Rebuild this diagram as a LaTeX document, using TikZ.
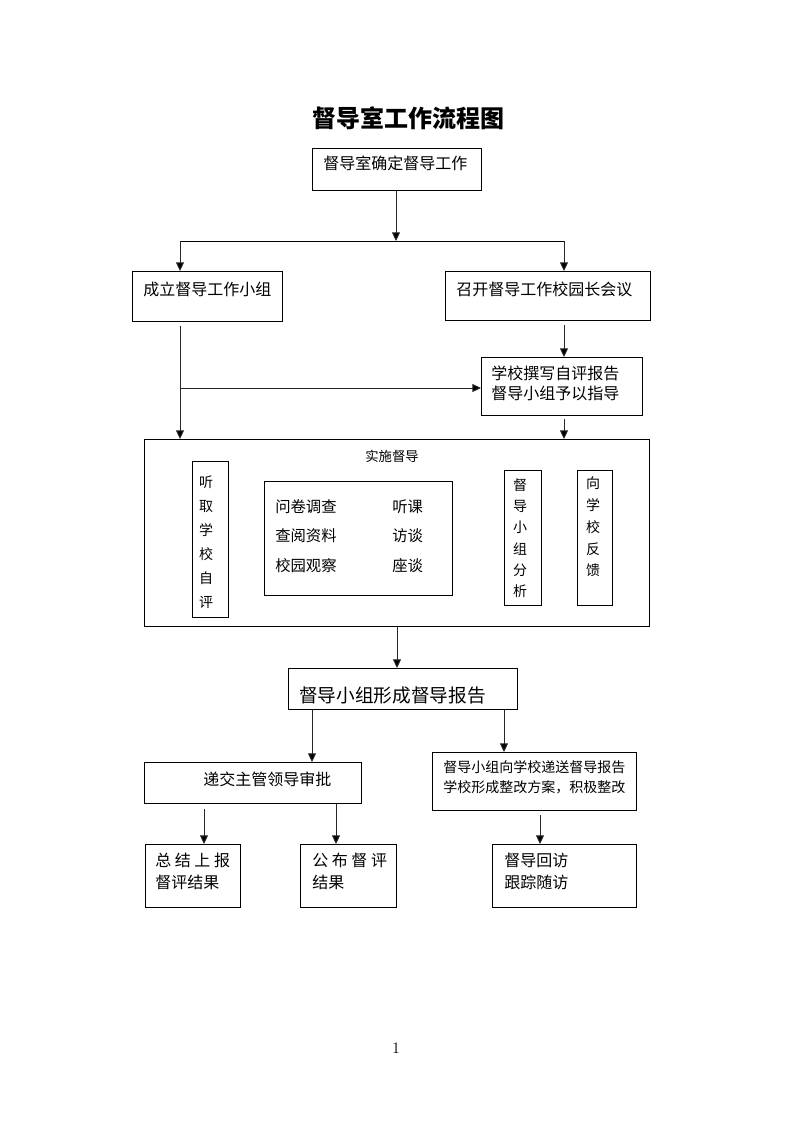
\documentclass[tikz,border=0pt]{standalone}
\usepackage{fontspec}
\newfontfamily\cjk{Noto Sans CJK SC}
\newcommand\cjksize[2]{\cjk\fontsize{#1}{#2}\selectfont}
\usetikzlibrary{arrows.meta}

\begin{document}
\begin{tikzpicture}[x=0.75pt,y=-0.75pt,
        box/.style={draw,line width=0.75pt,inner sep=0pt,anchor=north west},
        wh/.style 2 args={minimum width=#1*0.75pt,minimum height=#2*0.75pt},
        txt/.style={inner sep=0pt,anchor=west,align=left,font=\cjksize{12}{16.5}},
        vtxt/.style={inner sep=0pt,align=center},
        arr/.style={line width=0.7pt,draw=black!85,-{Triangle[length=6.5pt,width=6pt,fill=black]}}]
    \useasboundingbox (0,0) rectangle (793,1122);
    \node[inner sep=0pt,font=\cjksize{18}{22}\bfseries] (title) at (408,118) {督导室工作流程图};
    \node[box,wh={169}{42}] (top) at (312,148) {};
    \node[txt] (topt) at (323,163) {督导室确定督导工作};
    \node[box,wh={150}{50}] (grp) at (132,271) {};
    \node[txt] (grpt) at (143,289) {成立督导工作小组};
    \node[box,wh={205}{49}] (meet) at (445,271) {};
    \node[txt] (meett) at (456,289) {召开督导工作校园长会议};
    \node[box,wh={161}{58}] (self) at (481,357) {};
    \node[txt,font=\cjksize{12}{15}] (selft) at (491,383) {学校撰写自评报告\\督导小组予以指导};
    \node[box,wh={505}{187}] (impl) at (144,439) {};
    \node[inner sep=0pt,font=\cjksize{10}{12}] (implt) at (392,456) {实施督导};
    \node[box,wh={36}{156}] (listen) at (192,461) {};
    \node[vtxt,font=\cjksize{10.5}{18}] (listent) at (206,542) {听\\取\\学\\校\\自\\评};
    \node[box,wh={188}{114}] (methods) at (264,481) {};
    \node[txt,font=\cjksize{11.5}{22}] (methl) at (275,536) {问卷调查\\查阅资料\\校园观察};
    \node[txt,font=\cjksize{11.5}{22}] (methr) at (392,536) {听课\\访谈\\座谈};
    \node[box,wh={37}{135}] (analyse) at (504,470) {};
    \node[vtxt,font=\cjksize{10.5}{16}] (analyset) at (520,538) {督\\导\\小\\组\\分\\析};
    \node[box,wh={35}{135}] (feedback) at (577,470) {};
    \node[vtxt,font=\cjksize{10.5}{16.3}] (feedbackt) at (593,527) {向\\学\\校\\反\\馈};
    \node[box,wh={229}{41}] (report) at (288,668) {};
    \node[txt,font=\cjksize{14}{16}] (reportt) at (299,695) {督导小组形成督导报告};
    \node[box,wh={217}{41}] (submit) at (144,762) {};
    \node[txt] (submitt) at (203,779) {递交主管领导审批};
    \node[box,wh={204}{58}] (send) at (432,752) {};
    \node[txt,font=\cjksize{10.5}{15}] (sendt) at (443,777) {督导小组向学校递送督导报告\\学校形成整改方案，积极整改};
    \node[box,wh={95}{63}] (sum) at (145,844) {};
    \node[txt] (sumt) at (155,871) {总 结 上 报\\督评结果};
    \node[box,wh={96}{63}] (publish) at (300,844) {};
    \node[txt] (publisht) at (312,871) {公 布 督 评\\结果};
    \node[box,wh={144}{63}] (revisit) at (492,844) {};
    \node[txt] (revisitt) at (504,871) {督导回访\\跟踪随访};
    \node[inner sep=0pt,font=\fontsize{12}{14}\selectfont] (pageno) at (396,1048) {1};

    \coordinate (fork) at (396,241);
    \coordinate (forkl) at (180,241);
    \coordinate (forkr) at (564,241);
    \coordinate (tap) at (180,388);
    \coordinate (a1) at (312,0);
    \coordinate (a2) at (504,0);
    \coordinate (a3) at (204,0);
    \coordinate (a4) at (336,0);
    \coordinate (a5) at (540,0);

    \draw[arr] (fork |- top.south) -- (fork);
    \draw[line width=0.75pt] (forkl) -- (forkr);
    \draw[arr] (forkl) -- (forkl |- grp.north);
    \draw[arr] (forkr) -- (forkr |- meet.north);
    \draw[arr,shorten <=3pt] (forkl |- grp.south) -- (forkl |- impl.north);
    \draw[arr] (tap) -- (tap -| self.west);
    \draw[arr,shorten <=3pt] (forkr |- meet.south) -- (forkr |- self.north);
    \draw[arr,shorten <=2pt] (forkr |- self.south) -- (forkr |- impl.north);
    \draw[arr] (impl.south) -- (impl.south |- report.north);
    \draw[arr] (a1 |- report.south) -- (a1 |- submit.north);
    \draw[arr] (a2 |- report.south) -- (a2 |- send.north);
    \draw[arr,shorten <=4pt] (a3 |- submit.south) -- (a3 |- sum.north);
    \draw[arr] (a4 |- submit.south) -- (a4 |- publish.north);
    \draw[arr,shorten <=3pt] (a5 |- send.south) -- (a5 |- revisit.north);
\end{tikzpicture}
\end{document}
